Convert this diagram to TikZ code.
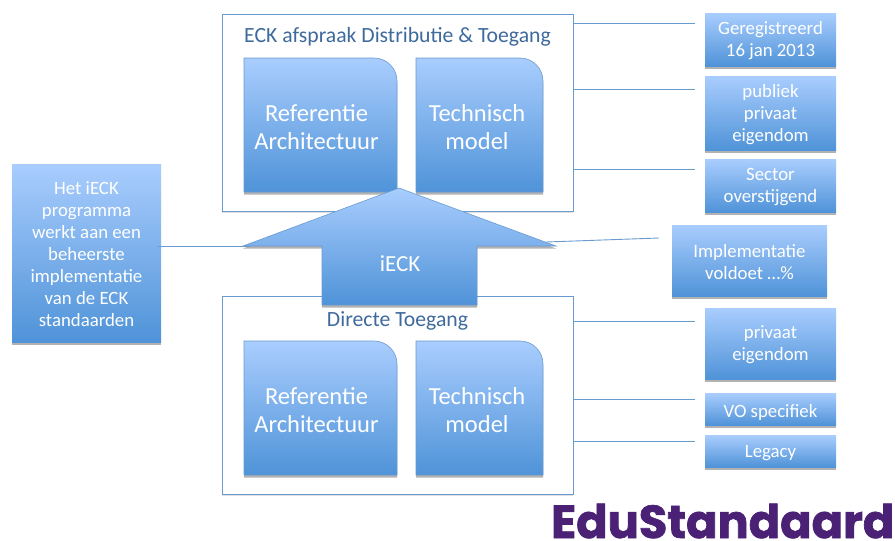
\documentclass[tikz,border=0pt]{standalone}
\usepackage{fontspec}
\setmainfont{Carlito}
\newfontfamily\logofont[FakeBold=1.5]{Poppins}
\usetikzlibrary{shadows}
\definecolor{lighttop}{HTML}{A9CDFE}
\definecolor{darkbot}{HTML}{4F93D8}
\definecolor{edge}{HTML}{6A9BD0}
\definecolor{titleblue}{HTML}{3F6A9C}
\definecolor{logopurple}{HTML}{4B2175}
\tikzset{
  grad/.style={top color=lighttop,bottom color=darkbot,middle color=lighttop!50!darkbot},
  shad/.style={drop shadow={shadow xshift=0pt,shadow yshift=-2.5pt,opacity=0.3,fill=black}},
  softshad/.style={drop shadow={shadow xshift=0pt,shadow yshift=-1.5pt,opacity=0.12,fill=black}},
  tagbox/.style={grad,shad,draw=none,inner sep=0pt,anchor=north west},
  tagtext/.style={text=white,align=center,inner sep=0pt,font=\fontsize{18.8}{22}\selectfont},
  frame/.style={draw=edge,line width=0.9pt,fill=white,softshad,anchor=north west,inner sep=0pt},
  cornerbox/.style={grad,shad,draw=edge,line width=0.6pt},
  bigtext/.style={text=white,align=center,font=\fontsize{24.5}{28}\selectfont},
  frametitle/.style={text=titleblue,font=\fontsize{21.7}{26}\selectfont},
  link/.style={draw=edge,line width=0.9pt}
}
\begin{document}
\begin{tikzpicture}[x=1pt,y=-1pt]
\useasboundingbox (0,0) rectangle (895,541);
% frames
\node[frame,minimum width=351pt,minimum height=197pt] (top) at (222,14) {};
\node[frame,minimum width=351pt,minimum height=198pt] (bot) at (222,296) {};
% coloured blocks with one rounded corner
\path[cornerbox] (244,58) -- (374,58) arc[start angle=-90,end angle=0,radius=23] -- (397,192) -- (244,192) -- cycle;
\path[cornerbox] (416,58) -- (520,58) arc[start angle=-90,end angle=0,radius=23] -- (543,192) -- (416,192) -- cycle;
\path[cornerbox] (244,341) -- (374,341) arc[start angle=-90,end angle=0,radius=23] -- (397,475) -- (244,475) -- cycle;
\path[cornerbox] (416,341) -- (520,341) arc[start angle=-90,end angle=0,radius=23] -- (543,475) -- (416,475) -- cycle;
\node[bigtext] (refa) at (316.5,127) {Referentie\\Architectuur};
\node[bigtext] (teca) at (477,127) {Technisch\\model};
\node[bigtext] (refb) at (316.5,410) {Referentie\\Architectuur};
\node[bigtext] (tecb) at (477,410) {Technisch\\model};
\node[frametitle] (ttop) at (397.5,37) {ECK afspraak Distributie \& Toegang};
% arrow
\path[cornerbox] (399,188) -- (556,246) -- (477,246) -- (477,305) -- (322,305) -- (322,246) -- (243,246) -- cycle;
\node[text=white,font=\fontsize{23}{27}\selectfont] (ieck) at (400,264) {iECK};
\node[frametitle] (tbot) at (397.5,321) {Directe Toegang};
% left box
\node[tagbox,minimum width=149pt,minimum height=178pt] (left) at (12,164) {};
\node[tagtext] (leftt) at (86.5,254) {Het iECK\\programma\\werkt aan een\\beheerste\\implementatie\\van de ECK\\standaarden};
% right boxes
\node[tagbox,minimum width=131pt,minimum height=53pt] (r1) at (705,13) {};
\node[tagtext] (r1t) at (770.5,41) {Geregistreerd\\16 jan 2013};
\node[tagbox,minimum width=131pt,minimum height=74pt] (r2) at (705,76) {};
\node[tagtext] (r2t) at (770.5,114.5) {publiek\\privaat\\eigendom};
\node[tagbox,minimum width=131pt,minimum height=53pt] (r3) at (705,159) {};
\node[tagtext] (r3t) at (770.5,187) {Sector\\overstijgend};
\node[tagbox,minimum width=155pt,minimum height=71pt] (impl) at (672,225) {};
\node[tagtext] (implt) at (749.5,262.5) {Implementatie\\voldoet …\%};
\node[tagbox,minimum width=131pt,minimum height=71pt] (r4) at (705,308) {};
\node[tagtext] (r4t) at (770.5,345) {privaat\\eigendom};
\node[tagbox,minimum width=131pt,minimum height=32pt] (r5) at (705,393) {};
\node[tagtext] (r5t) at (770.5,412) {VO specifiek};
\node[tagbox,minimum width=131pt,minimum height=32pt] (r6) at (705,435) {};
\node[tagtext] (r6t) at (770.5,453.5) {Legacy};
% connector ends
\coordinate (e1) at (695,23.5);
\coordinate (e2) at (695,89.5);
\coordinate (e3) at (695,169);
\coordinate (e4) at (695,321);
\coordinate (e5) at (695,399);
\coordinate (e6) at (695,441);
\coordinate (e7) at (659,238);
\coordinate (e8) at (546,242);
\coordinate (e9) at (158,246.5);
\coordinate (e10) at (250,246.5);
\draw[link] (top.east |- e1) -- (e1);
\draw[link] (top.east |- e2) -- (e2);
\draw[link] (top.east |- e3) -- (e3);
\draw[link] (bot.east |- e4) -- (e4);
\draw[link] (bot.east |- e5) -- (e5);
\draw[link] (bot.east |- e6) -- (e6);
\draw[link] (e7) -- (e8);
\draw[link] (e9) -- (e10);
% logo
\node[text=logopurple,inner sep=0pt,anchor=base west] (logo) at (551,538) {\resizebox{343pt}{!}{\logofont\bfseries EduStandaard}};
\end{tikzpicture}
\end{document}
